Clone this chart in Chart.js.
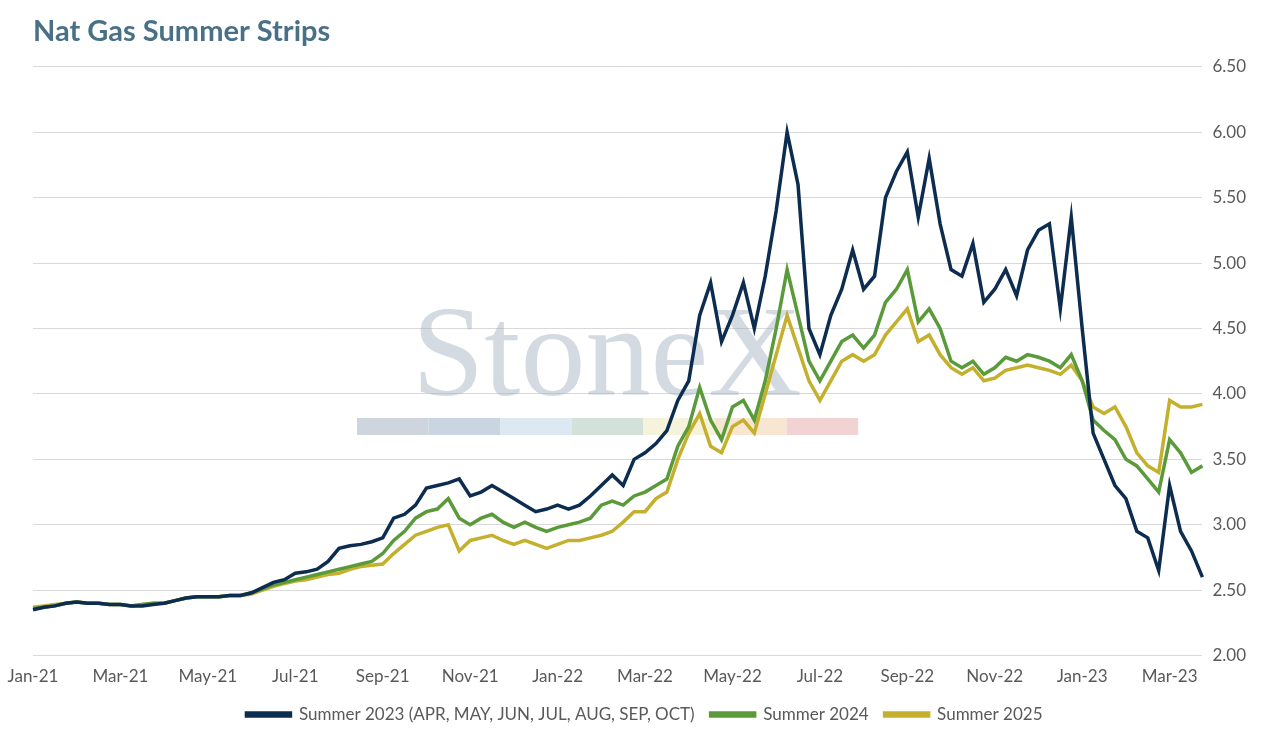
<!DOCTYPE html>
<html>
<head>
<meta charset="utf-8">
<script src="https://cdn.jsdelivr.net/npm/chart.js@4"></script>
<style>
  body { margin: 0; background: #fff; }
  #wrap { width: 1274px; height: 739px; position: relative; }
</style>
</head>
<body>
<div id="wrap"><canvas id="c"></canvas></div>
<script>
// month tick labels, each month split into 4 quarter-month slots
var months = ['Jan-21','Feb-21','Mar-21','Apr-21','May-21','Jun-21','Jul-21','Aug-21','Sep-21','Oct-21','Nov-21','Dec-21',
  'Jan-22','Feb-22','Mar-22','Apr-22','May-22','Jun-22','Jul-22','Aug-22','Sep-22','Oct-22','Nov-22','Dec-22',
  'Jan-23','Feb-23','Mar-23'];

var summer2023 = [2.35,2.37,2.38,2.40, 2.41,2.40,2.40,2.39, 2.39,2.38,2.38,2.39, 2.40,2.42,2.44,2.45,
  2.45,2.45,2.46,2.46, 2.48,2.52,2.56,2.58, 2.63,2.64,2.66,2.72, 2.82,2.84,2.85,2.87,
  2.90,3.05,3.08,3.15, 3.28,3.30,3.32,3.35, 3.22,3.25,3.30,3.25, 3.20,3.15,3.10,3.12,
  3.15,3.12,3.15,3.22, 3.30,3.38,3.30,3.50, 3.55,3.62,3.72,3.95, 4.10,4.60,4.85,4.40,
  4.60,4.85,4.50,4.90, 5.40,6.00,5.60,4.50, 4.30,4.60,4.80,5.10, 4.80,4.90,5.50,5.70,
  5.85,5.35,5.80,5.30, 4.95,4.90,5.15,4.70, 4.80,4.95,4.75,5.10, 5.25,5.30,4.65,5.35,
  4.50,3.70,3.50,3.30, 3.20,2.95,2.90,2.65, 3.30,2.95,2.80,2.60];

var summer2024 = [2.36,2.37,2.38,2.40, 2.41,2.40,2.40,2.39, 2.39,2.38,2.39,2.40, 2.40,2.42,2.44,2.45,
  2.45,2.45,2.46,2.46, 2.48,2.51,2.54,2.56, 2.58,2.60,2.62,2.64, 2.66,2.68,2.70,2.72,
  2.78,2.88,2.95,3.05, 3.10,3.12,3.20,3.05, 3.00,3.05,3.08,3.02, 2.98,3.02,2.98,2.95,
  2.98,3.00,3.02,3.05, 3.15,3.18,3.15,3.22, 3.25,3.30,3.35,3.60, 3.75,4.05,3.80,3.65,
  3.90,3.95,3.80,4.10, 4.50,4.95,4.60,4.25, 4.10,4.25,4.40,4.45, 4.35,4.45,4.70,4.80,
  4.95,4.55,4.65,4.50, 4.25,4.20,4.25,4.15, 4.20,4.28,4.25,4.30, 4.28,4.25,4.20,4.30,
  4.10,3.80,3.72,3.65, 3.50,3.45,3.35,3.25, 3.65,3.55,3.40,3.45];

var summer2025 = [2.37,2.38,2.39,2.40, 2.41,2.40,2.40,2.39, 2.39,2.38,2.39,2.40, 2.40,2.42,2.44,2.45,
  2.45,2.45,2.46,2.46, 2.47,2.50,2.53,2.55, 2.57,2.58,2.60,2.62, 2.63,2.66,2.68,2.69,
  2.70,2.78,2.85,2.92, 2.95,2.98,3.00,2.80, 2.88,2.90,2.92,2.88, 2.85,2.88,2.85,2.82,
  2.85,2.88,2.88,2.90, 2.92,2.95,3.02,3.10, 3.10,3.20,3.25,3.50, 3.70,3.85,3.60,3.55,
  3.75,3.80,3.70,4.00, 4.30,4.60,4.35,4.10, 3.95,4.10,4.25,4.30, 4.25,4.30,4.45,4.55,
  4.65,4.40,4.45,4.30, 4.20,4.15,4.20,4.10, 4.12,4.18,4.20,4.22, 4.20,4.18,4.15,4.22,
  4.10,3.90,3.85,3.90, 3.75,3.55,3.45,3.40, 3.95,3.90,3.90,3.92];

var labels = [];
months.forEach(function(m) { labels.push(m, '', '', ''); });
labels = labels.slice(0, summer2023.length);

/* faint StoneX watermark behind the lines */
var watermark = {
  id: 'watermark',
  beforeDatasetsDraw: function(chart) {
    var ctx = chart.ctx;
    ctx.save();
    ctx.font = '130px "Liberation Serif", serif';
    ctx.fillStyle = 'rgba(160,172,190,0.45)';
    ctx.textAlign = 'center';
    ctx.textBaseline = 'alphabetic';
    ctx.fillText('StoneX', 607, 395);
    var cols = ['#cfd5de','#c9d6e2','#dce8f2','#d3e2d9','#f6f3dc','#f7e6d2','#f2d3d3'];
    cols.forEach(function(c, i) {
      ctx.fillStyle = c;
      ctx.fillRect(357 + i * 71.6, 418, 71.6, 17);
    });
    ctx.restore();
  }
};

function ds(label, data, color) {
  return { label: label, data: data, borderColor: color, backgroundColor: color,
    borderWidth: 3.5, pointRadius: 0, tension: 0 };
}

new Chart(document.getElementById('c'), {
  type: 'line',
  data: {
    labels: labels,
    datasets: [
      ds('Summer 2023 (APR, MAY, JUN, JUL, AUG, SEP, OCT)', summer2023, '#0d2d50'),
      ds('Summer 2024', summer2024, '#5a9a3a'),
      ds('Summer 2025', summer2025, '#c4b02c')
    ]
  },
  options: {
    responsive: true,
    maintainAspectRatio: false,
    animation: false,
    layout: { padding: { left: 33, right: 18, bottom: 6 } },
    plugins: {
      title: {
        display: true, text: 'Nat Gas Summer Strips', align: 'start',
        color: '#4a7088', font: { family: 'Lato', size: 29, weight: 'bold' },
        padding: { top: 14, bottom: 18 }
      },
      legend: {
        position: 'bottom',
        labels: { color: '#595959', font: { family: 'Lato', size: 17 }, boxWidth: 44, boxHeight: 3, padding: 16 }
      },
      tooltip: { enabled: false }
    },
    scales: {
      x: {
        offset: false,
        grid: { display: false },
        border: { display: false },
        ticks: {
          autoSkip: false, maxRotation: 0, color: '#595959', font: { family: 'Lato', size: 17 },
          callback: function(v, i) { return (i % 8 === 0) ? labels[i] : ''; }
        }
      },
      y: {
        position: 'right', min: 2, max: 6.5,
        grid: { color: '#d9d9d9', drawTicks: false },
        border: { display: false },
        ticks: {
          stepSize: 0.5, padding: 10, color: '#595959', font: { family: 'Lato', size: 17 },
          callback: function(v) { return v.toFixed(2); }
        }
      }
    }
  },
  plugins: [watermark]
});
</script>
</body>
</html>
